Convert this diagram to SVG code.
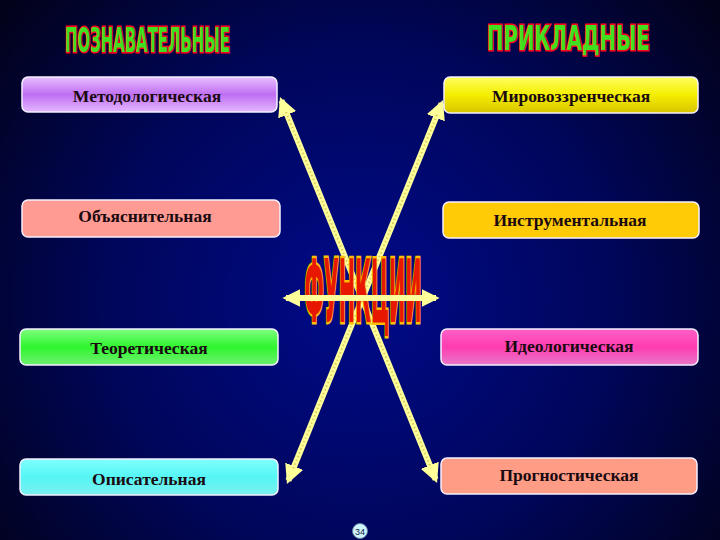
<svg xmlns="http://www.w3.org/2000/svg" width="720" height="540" viewBox="0 0 720 540">
<defs>
<radialGradient id="bg" cx="360" cy="300" r="460" gradientUnits="userSpaceOnUse">
<stop offset="0" stop-color="#000a8a"/>
<stop offset="0.55" stop-color="#00065a"/>
<stop offset="1" stop-color="#02021a"/>
</radialGradient>
<linearGradient id="gLilac" x1="0" y1="0" x2="0" y2="1">
<stop offset="0" stop-color="#e8c0ff"/><stop offset="0.5" stop-color="#bf6ef2"/><stop offset="1" stop-color="#e4b8ff"/>
</linearGradient>
<linearGradient id="gYellow" x1="0" y1="0" x2="0" y2="1">
<stop offset="0" stop-color="#ffff60"/><stop offset="0.5" stop-color="#f4ee00"/><stop offset="1" stop-color="#d8c400"/>
</linearGradient>
<linearGradient id="gGreen" x1="0" y1="0" x2="0" y2="1">
<stop offset="0" stop-color="#80ff80"/><stop offset="0.5" stop-color="#2ef52e"/><stop offset="1" stop-color="#70f070"/>
</linearGradient>
<linearGradient id="gPink" x1="0" y1="0" x2="0" y2="1">
<stop offset="0" stop-color="#ff60c8"/><stop offset="0.5" stop-color="#ff3cb0"/><stop offset="1" stop-color="#e878c8"/>
</linearGradient>
<linearGradient id="gCyan" x1="0" y1="0" x2="0" y2="1">
<stop offset="0" stop-color="#80ffff"/><stop offset="0.5" stop-color="#55f5f5"/><stop offset="1" stop-color="#7cf0f0"/>
</linearGradient>
<marker id="ah" viewBox="0 0 10 10" refX="8" refY="5" markerWidth="3.2" markerHeight="3.2" orient="auto-start-reverse" markerUnits="strokeWidth">
<path d="M0,0 L10,5 L0,10 Z" fill="#ffff99"/>
</marker>
<marker id="ah2" viewBox="0 0 10 10" refX="8" refY="5" markerWidth="3" markerHeight="3" orient="auto-start-reverse" markerUnits="strokeWidth">
<path d="M0,0 L10,5 L0,10 Z" fill="#ffff99"/>
</marker>
</defs>
<style>
.box{stroke:#f4f0ff;stroke-width:1.5}
.lbl{font-family:"Liberation Serif","Times New Roman",serif;font-weight:bold;font-size:17.5px;fill:#1a0a10;text-anchor:middle}
.ttl{font-family:"DejaVu Sans Condensed","DejaVu Sans",sans-serif;font-weight:bold;fill:#40e020;stroke:#ff0020;stroke-width:3;paint-order:stroke}
.ln{stroke:#ffff99;stroke-width:6;fill:none}
.dot{stroke:#d8cc60;stroke-width:2;stroke-dasharray:1.5 2.5;fill:none}
</style>
<rect width="720" height="540" fill="url(#bg)"/>

<text class="ttl" transform="translate(65,52) scale(0.53,1)" x="0" y="0" font-size="33" textLength="311" lengthAdjust="spacingAndGlyphs">ПОЗНАВАТЕЛЬНЫЕ</text>
<text class="ttl" transform="translate(487,50) scale(0.73,1)" x="0" y="0" font-size="33" textLength="223" lengthAdjust="spacingAndGlyphs">ПРИКЛАДНЫЕ</text>

<g id="connectors">
<line class="ln" x1="281.4" y1="100.5" x2="435.6" y2="479.5" marker-start="url(#ah)" marker-end="url(#ah)"/>
<line class="dot" x1="286" y1="112" x2="431" y2="468"/>
<line class="ln" x1="441.6" y1="103.5" x2="288.4" y2="480.5" marker-start="url(#ah)" marker-end="url(#ah)"/>
<line class="dot" x1="437" y1="115" x2="293" y2="469"/>
</g>

<g id="center">
<text transform="translate(363,322) scale(0.27,1)" x="0" y="0" font-family="DejaVu Sans Condensed,DejaVu Sans,sans-serif" font-weight="bold" font-size="88" fill="#e81800" stroke="#ffc000" stroke-width="5" paint-order="stroke" text-anchor="middle" textLength="433" lengthAdjust="spacingAndGlyphs">ФУНКЦИИ</text>
<line class="ln" x1="286" y1="298" x2="436" y2="298" stroke-width="7" marker-start="url(#ah2)" marker-end="url(#ah2)"/>
</g>

<g id="n1"><rect class="box" x="22" y="77" width="255" height="35" rx="6" fill="url(#gLilac)"/><text class="lbl" x="147" y="102">Методологическая</text></g>
<g id="n2"><rect class="box" x="444" y="77" width="254" height="36" rx="6" fill="url(#gYellow)"/><text class="lbl" x="571" y="102">Мировоззренческая</text></g>
<g id="n3"><rect class="box" x="22" y="200" width="258" height="37" rx="6" fill="#ff9b92"/><text class="lbl" x="145" y="222">Объяснительная</text></g>
<g id="n4"><rect class="box" x="443" y="202" width="256" height="36" rx="6" fill="#ffcb06"/><text class="lbl" x="570" y="226">Инструментальная</text></g>
<g id="n5"><rect class="box" x="20" y="329" width="258" height="36" rx="6" fill="url(#gGreen)"/><text class="lbl" x="149" y="354">Теоретическая</text></g>
<g id="n6"><rect class="box" x="441" y="329" width="257" height="36" rx="6" fill="url(#gPink)"/><text class="lbl" x="569" y="352">Идеологическая</text></g>
<g id="n7"><rect class="box" x="20" y="459" width="258" height="36" rx="6" fill="url(#gCyan)"/><text class="lbl" x="149" y="485">Описательная</text></g>
<g id="n8"><rect class="box" x="441" y="458" width="256" height="36" rx="6" fill="#ff9c86"/><text class="lbl" x="569" y="481">Прогностическая</text></g>

<g id="page"><circle cx="360" cy="531" r="7.5" fill="#d0f4ff" stroke="#6080a0" stroke-width="1"/><text x="360" y="534.5" font-family="Liberation Sans,Arial,sans-serif" font-size="9" fill="#102040" text-anchor="middle">34</text></g>
</svg>
